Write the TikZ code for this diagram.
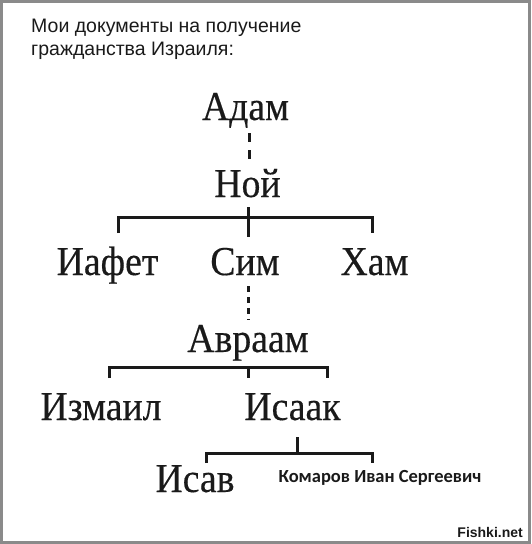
\documentclass[tikz,border=0pt]{standalone}
\usepackage{fontspec}
\setmainfont{Liberation Serif}
\newfontfamily\namefont[FakeStretch=0.92,FakeBold=0.35]{Liberation Serif}
\newfontfamily\headfont{Liberation Sans}
\newfontfamily\mefont{Carlito}
\definecolor{framegray}{HTML}{8A8A8A}
\definecolor{ink}{HTML}{1A1A1A}
\begin{document}
\begin{tikzpicture}[x=1pt,y=-1pt,
  person/.style={anchor=base,inner sep=0pt,font=\namefont\fontsize{41}{44}\selectfont,text=ink},
  head/.style={anchor=base west,inner sep=0pt,font=\headfont\fontsize{19.5}{22}\selectfont,text=ink},
  link/.style={line width=3pt,ink},
  dotlink/.style={line width=3pt,ink,dash pattern=on 9pt off 8pt}]
\fill[white] (0,0) rectangle (531,544);
\draw[framegray,line width=3pt] (1.5,1.5) rectangle (529.5,542.5);
\useasboundingbox (0,0) rectangle (531,544);
% title
\node[head] (t1) at (31,32) {Мои документы на получение};
\node[head] (t2) at (31,55) {гражданства Израиля:};
% people
\node[person] (adam) at (245.5,120) {Адам};
\node[person] (noi) at (247.5,197) {Ной};
\node[person] (iafet) at (107.5,275) {Иафет};
\node[person] (sim) at (245,275) {Сим};
\node[person] (ham) at (374.5,275) {Хам};
\node[person] (avraam) at (248,352) {Авраам};
\node[person] (izmail) at (101,420) {Измаил};
\node[person] (isaak) at (292.5,420) {Исаак};
\node[person] (isav) at (195,492) {Исав};
\node[anchor=base,inner sep=0pt,font=\mefont\bfseries\fontsize{18.5}{20}\selectfont,text=ink] (me) at (380,482) {Комаров Иван Сергеевич};
\node[anchor=base east,inner sep=0pt,font=\headfont\bfseries\fontsize{14}{15}\selectfont,text=ink] (wm) at (523,537) {Fishki.net};
% junction coordinates
\coordinate (a1) at (249,133);
\coordinate (a2) at (249,160);
\coordinate (n0) at (248,207);
\coordinate (nj) at (248,217);
\coordinate (n1) at (248,237);
\coordinate (nl) at (118,217);
\coordinate (nr) at (372,217);
\coordinate (nld) at (118,233);
\coordinate (nrd) at (372,233);
\coordinate (s1) at (248,286);
\coordinate (s2) at (248,320);
\coordinate (bl) at (109,367);
\coordinate (br) at (327,367);
\coordinate (bj) at (248,367);
\coordinate (bld) at (109,378);
\coordinate (brd) at (327,378);
\coordinate (bjd) at (248,378);
\coordinate (i0) at (297,437);
\coordinate (ij) at (297,453);
\coordinate (il) at (206,453);
\coordinate (ir) at (372,453);
\coordinate (ild) at (206,463);
\coordinate (ird) at (372,463);
% connectors
\draw[dotlink] (a1) -- (a2);
\draw[link] (n0) -- (n1);
\draw[link] (nld) -- (nl) -- (nr) -- (nrd);
\draw[dotlink,dash pattern=on 6pt off 5pt] (s1) -- (s2);
\draw[link] (bld) -- (bl) -- (br) -- (brd);
\draw[link] (bj) -- (bjd);
\draw[link] (i0) -- (ij);
\draw[link] (ild) -- (il) -- (ir) -- (ird);
\end{tikzpicture}
\end{document}
